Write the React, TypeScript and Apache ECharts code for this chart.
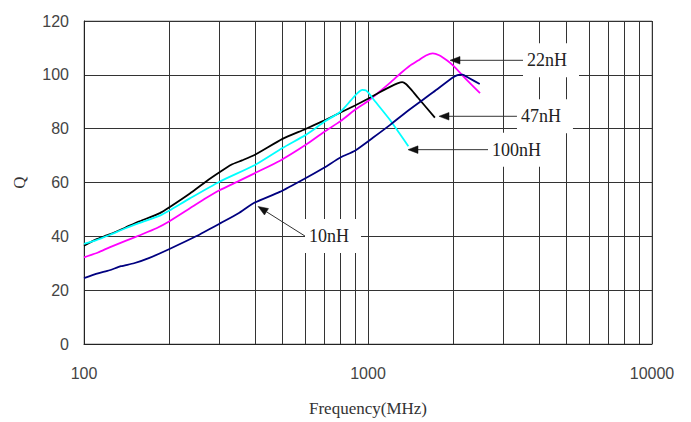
import React, { useEffect, useRef } from "react";
import * as echarts from "echarts";

// ---- Data (frequency in MHz, Q) ----
const q22nH: [number, number][] = [
  [100, 32.2], [112, 34], [123, 35.9], [140, 38.3], [157, 40.4], [180, 43], [200, 45.6],
  [236, 50.4], [270, 54.3], [300, 57.1], [350, 60.5], [400, 63.5], [490, 68.1], [600, 73.8],
  [700, 78.8], [800, 82.8], [900, 87], [1000, 90.3], [1100, 93.8], [1200, 97.2], [1300, 100.5],
  [1400, 103.3], [1500, 105.3], [1600, 107.2], [1690, 108], [1780, 107.3], [1900, 105.3],
  [2000, 103.3], [2200, 98.7], [2480, 93.2],
];
const q47nH: [number, number][] = [
  [100, 36.5], [110, 38.8], [123, 40.7], [140, 43.3], [157, 45.6], [185, 48.6],
  [200, 50.8], [236, 55.9], [270, 60.5], [300, 63.8], [330, 66.6], [360, 68.2], [400, 70.3],
  [500, 76.2], [600, 79.8], [700, 83], [800, 86], [900, 88.6], [1000, 91.1],
  [1100, 93.5], [1200, 95.6], [1270, 96.8], [1320, 97.3], [1360, 96.6], [1420, 94.5],
  [1500, 91.5], [1720, 84.1],
];
const q100nH: [number, number][] = [
  [100, 37.2], [110, 38.5], [123, 40.5], [140, 43], [157, 45], [185, 47.7],
  [200, 49.6], [236, 54.1], [300, 60.3], [400, 66.5], [500, 72.8], [600, 77.5],
  [650, 80], [700, 82.5], [800, 86.3], [870, 90.5], [920, 93.3], [955, 94.4],
  [985, 94.2], [1015, 92.7], [1040, 91.2], [1190, 83.5], [1387, 73.5],
];
const q10nH: [number, number][] = [
  [100, 24.5], [112, 26.2], [123, 27.4], [135, 28.9], [150, 30], [170, 32], [200, 35.3],
  [249, 40.1], [300, 44.7], [350, 48.6], [395, 52.3], [489, 56.5], [600, 61.5], [700, 65.5],
  [800, 69.3], [900, 71.8], [1040, 76.6], [1200, 81.5], [1368, 86.3], [1700, 93.6],
  [1995, 99.1], [2080, 100], [2150, 100.1], [2250, 99], [2474, 96.6],
];

const seriesNames = ["22nH", "47nH", "100nH", "10nH"];
const seriesData = [q22nH, q47nH, q100nH, q10nH];
const seriesColors = ["#FF00FF", "#000000", "#00FFFF", "#000080"];

const minorGridFreqs = [200, 300, 400, 500, 600, 700, 800, 900, 2000, 3000, 4000, 5000, 6000, 7000, 8000, 9000];

// Annotation labels: arrow tip (on curve) and tail (at label)
const annotationLabels = ["22nH", "47nH", "100nH", "10nH"];
const annotationTips: [number, number][] = [[1944, 105.4], [1778, 84.6], [1383, 72.2], [410, 51.1]];
const annotationTails: [number, number][] = [[3514, 105.4], [3346, 84.6], [2646, 72.2], [600, 40.1]];

export default function App() {
  const ref = useRef<HTMLDivElement>(null);
  useEffect(() => {
    const el = ref.current!;
    const chart = echarts.init(el, null, { renderer: "svg" });
    const serif = '"Liberation Serif", "Times New Roman", serif';
    const sans = '"Liberation Sans", Arial, sans-serif';
    const option: any = {
      animation: false,
      grid: { left: 84, right: 39, top: 21, bottom: 72, show: true, borderColor: "#999", borderWidth: 1 },
      xAxis: {
        type: "log",
        logBase: 10,
        min: 100,
        max: 10000,
        name: "Frequency(MHz)",
        nameLocation: "middle",
        nameGap: 56,
        nameTextStyle: { fontFamily: serif, fontSize: 17, color: "#333" },
        axisLine: { show: true, lineStyle: { color: "#222", width: 1 } },
        axisTick: { show: false },
        axisLabel: {
          margin: 21,
          fontSize: 16,
          fontFamily: sans,
          color: "#444",
          formatter: (v: number) => String(Math.round(v)),
        },
        splitLine: { show: true, lineStyle: { color: "#333", width: 1 } },
      },
      yAxis: {
        type: "value",
        min: 0,
        max: 120,
        interval: 20,
        name: "Q",
        nameLocation: "middle",
        nameRotate: 90,
        nameGap: 56,
        nameTextStyle: { fontFamily: serif, fontSize: 17, color: "#333" },
        axisLine: { show: true, lineStyle: { color: "#222", width: 1 } },
        axisTick: { show: false },
        axisLabel: { margin: 15, fontSize: 16, fontFamily: sans, color: "#444" },
        splitLine: { show: true, lineStyle: { color: "#333", width: 1 } },
      },
      series: [
        {
          name: "grid-minor",
          type: "line",
          data: [],
          z: 1,
          silent: true,
          markLine: {
            silent: true,
            symbol: "none",
            label: { show: false },
            lineStyle: { color: "#333", width: 1, type: "solid" },
            emphasis: { disabled: true },
            data: minorGridFreqs.map((f) => ({ xAxis: f })),
          },
        },
        ...seriesNames.map((name, i) => ({
          name,
          type: "line",
          data: seriesData[i],
          showSymbol: false,
          smooth: 0.2,
          z: 5,
          lineStyle: { color: seriesColors[i], width: 1.8 },
          itemStyle: { color: seriesColors[i] },
        })),
      ],
    };
    chart.setOption(option);

    const graphics: any[] = [];
    annotationLabels.forEach((label, i) => {
      const tip = chart.convertToPixel({ gridIndex: 0 }, annotationTips[i]) as number[];
      const tail = chart.convertToPixel({ gridIndex: 0 }, annotationTails[i]) as number[];
      const dx = tip[0] - tail[0];
      const dy = tip[1] - tail[1];
      const len = Math.hypot(dx, dy);
      const ux = dx / len;
      const uy = dy / len;
      const headLen = 10;
      const headW = 3.8;
      const bx = tip[0] - ux * headLen;
      const by = tip[1] - uy * headLen;
      const px = -uy * headW;
      const py = ux * headW;
      graphics.push({
        type: "text",
        x: tail[0],
        y: tail[1],
        z: 50,
        silent: true,
        style: {
          text: label,
          fill: "#222",
          fontSize: 18,
          fontFamily: serif,
          align: "left",
          verticalAlign: "middle",
          backgroundColor: "#fff",
          padding: [8, 12, 8, 4],
        },
      });
      graphics.push({
        type: "line",
        z: 60,
        silent: true,
        shape: { x1: tail[0], y1: tail[1], x2: bx, y2: by },
        style: { stroke: "#333", lineWidth: 1 },
      });
      graphics.push({
        type: "polygon",
        z: 60,
        silent: true,
        shape: { points: [[tip[0], tip[1]], [bx + px, by + py], [bx - px, by - py]] },
        style: { fill: "#111", stroke: "#111", lineWidth: 0.5 },
      });
    });
    chart.setOption({ graphic: graphics });

    return () => chart.dispose();
  }, []);
  return <div ref={ref} style={{ position: "absolute", left: 0, top: 0, width: 691, height: 422 }} />;
}
